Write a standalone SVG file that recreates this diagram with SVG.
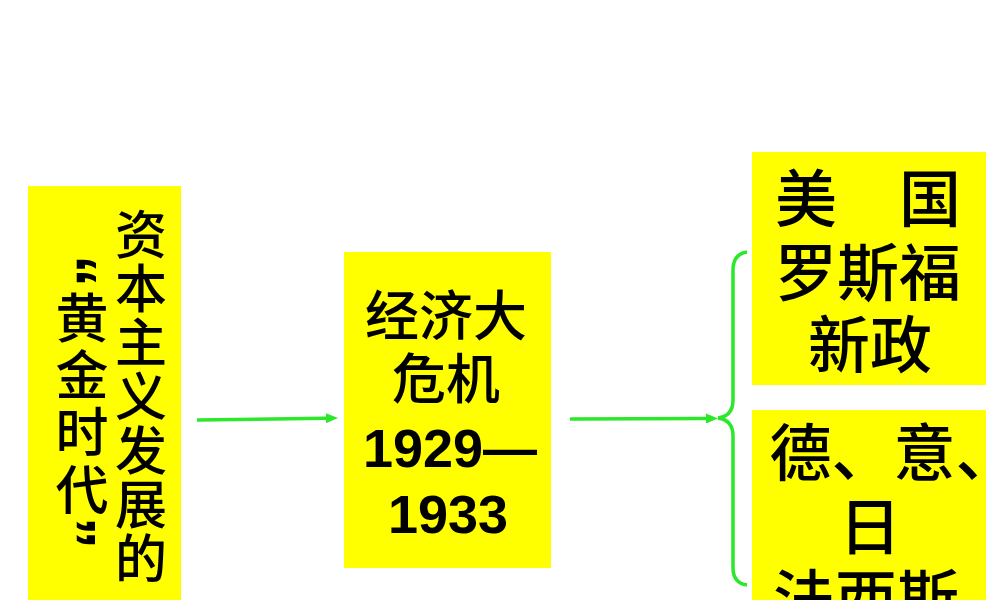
<svg xmlns="http://www.w3.org/2000/svg" width="1000" height="600" viewBox="0 0 1000 600">
<style>
.box{fill:#FFFF00;stroke:none}
.cjk{font-family:"Noto Sans CJK SC","Noto Sans CJK TC",sans-serif;font-weight:500;fill:#000}
.num{font-family:"Liberation Sans",Arial,sans-serif;font-weight:bold;fill:#000}
.q{font-family:"Liberation Sans",Arial,sans-serif;font-weight:bold;fill:#000;font-size:64px}
.conn{fill:none;stroke:#2BE82B;stroke-width:3.5}
</style>
<defs>
<marker id="ah" viewBox="0 0 12 10" refX="0" refY="5" markerWidth="12" markerHeight="10" markerUnits="userSpaceOnUse" orient="auto">
<path d="M0,0 L12,5 L0,10 z" fill="#2BE82B"/>
</marker>
</defs>
<rect width="1000" height="600" fill="#fff"/>
<g id="node-golden-age">
<rect class="box" x="28" y="186" width="153" height="420"/>
<text class="cjk" font-size="52" text-anchor="middle"><tspan x="141" y="254">资</tspan><tspan x="141" y="308">本</tspan><tspan x="141" y="362">主</tspan><tspan x="141" y="416">义</tspan><tspan x="141" y="470">发</tspan><tspan x="141" y="524">展</tspan><tspan x="141" y="578">的</tspan></text>
<text class="q" text-anchor="middle" transform="translate(88,271) rotate(90)" x="0" y="37">“</text>
<text class="cjk" font-size="53" text-anchor="middle"><tspan x="82" y="338">黄</tspan><tspan x="82" y="395">金</tspan><tspan x="82" y="452">时</tspan><tspan x="82" y="510">代</tspan></text>
<text class="q" text-anchor="middle" transform="translate(87,533) rotate(90)" x="0" y="37">”</text>
</g>
<g id="node-crisis">
<rect class="box" x="344" y="252" width="207" height="316"/>
<text class="cjk" font-size="54" text-anchor="middle"><tspan x="446" y="335.5">经济大</tspan><tspan x="446" y="398.5">危机</tspan></text>
<text class="num" font-size="54" text-anchor="middle"><tspan x="450" y="467">1929—</tspan><tspan x="448" y="533">1933</tspan></text>
</g>
<g id="node-new-deal">
<rect class="box" x="752" y="152" width="234" height="233"/>
<text class="cjk" font-size="62" text-anchor="middle"><tspan x="868" y="221.5">美　国</tspan><tspan x="868" y="295.5">罗斯福</tspan><tspan x="870" y="367.5">新政</tspan></text>
</g>
<g id="node-fascism">
<rect class="box" x="752" y="410" width="234" height="200"/>
<text class="cjk" font-size="62"><tspan x="769.5" y="476">德、意、</tspan></text>
<text class="cjk" font-size="62" text-anchor="middle"><tspan x="870" y="549.5">日</tspan><tspan x="866" y="622">法西斯</tspan></text>
</g>
<g id="connectors">
<path class="conn" d="M197,420 L326,418.2" marker-end="url(#ah)"/>
<path class="conn" d="M570,419 L706,418.5" marker-end="url(#ah)"/>
<path class="conn" stroke-width="3" d="M747,252 Q733,254 733,270 L733,400 Q733,416 718,418 Q733,420 733,436 L733,568 Q733,583 747,585"/>
</g>
</svg>
